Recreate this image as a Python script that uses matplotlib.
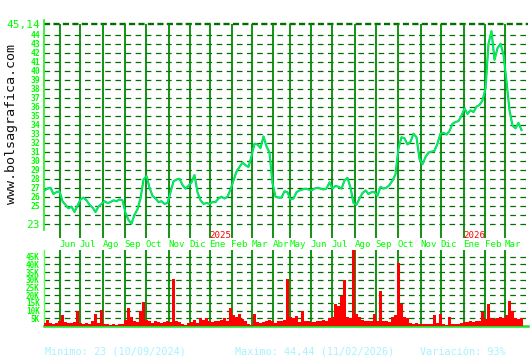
import numpy as np
import pandas as pd
import matplotlib
matplotlib.use("Agg")
import matplotlib.pyplot as plt
from matplotlib import transforms

# ---------------- data ----------------
# one sample every 3 trading days, starting 2024-05-13
price = [
    26.7, 26.9, 27.0, 26.3, 26.5, 26.6, 25.5, 25.1, 24.7, 24.9,
    24.3, 25.0, 25.7, 25.9, 25.6, 25.1, 24.8, 24.3, 24.9, 25.2,
    25.5, 25.3, 25.4, 25.6, 25.5, 25.7, 25.6, 24.2, 23.4, 23.0,
    24.0, 24.6, 25.8, 27.9, 28.3, 27.0, 26.1, 25.8, 25.4, 25.5,
    25.2, 25.3, 26.5, 27.7, 27.9, 28.0, 27.3, 26.9, 27.2, 27.6,
    28.4, 26.5, 25.6, 25.2, 25.3, 25.2, 25.4, 25.4, 25.8, 26.0,
    25.8, 26.0, 26.8, 27.8, 28.8, 29.3, 29.8, 29.5, 29.3, 30.5,
    31.9, 31.8, 31.4, 32.7, 31.6, 30.9, 27.5, 26.0, 25.9, 25.9,
    26.6, 26.5, 25.7, 25.8, 26.5, 26.7, 26.8, 26.9, 26.8, 26.7,
    26.9, 27.0, 26.9, 26.8, 26.9, 27.6, 26.9, 27.2, 27.1, 26.9,
    27.8, 28.1, 27.0, 25.3, 25.1, 25.8, 26.4, 26.7, 26.3, 26.5,
    26.5, 26.1, 27.1, 26.9, 27.0, 27.3, 27.8, 28.5, 31.4, 32.6,
    32.5, 31.8, 32.1, 33.0, 32.6, 30.2, 29.6, 30.4, 30.9, 31.0,
    31.1, 31.9, 33.0, 33.1, 32.9, 33.3, 34.1, 34.3, 34.4, 35.0,
    35.8, 35.2, 35.6, 35.4, 36.0, 36.2, 36.7, 38.0, 43.0, 44.4,
    41.2, 42.5, 43.0, 41.8, 38.8, 35.6, 33.9, 33.6, 34.2, 33.4,
]
volume_k = [
    2, 4, 2, 1.5, 2, 3, 7, 2.5, 2, 1.8,
    2.5, 10, 2, 1.5, 2, 1.5, 3, 8, 2, 10.5,
    1.5, 1, 0.8, 1, 0.7, 1, 1.5, 4, 11.5, 6,
    3, 2.5, 10, 15.4, 4, 3, 2, 3, 2.5, 2,
    2.5, 3, 2.5, 30.5, 3.5, 2.5, 1, 0.7, 2, 2.5,
    4, 2, 5, 4, 5, 3, 2.5, 3, 3.5, 4,
    5, 3.5, 11.5, 7, 6, 8, 4.5, 3.5, 1, 0.8,
    8, 2.5, 2, 2.5, 3, 4, 3, 2, 3, 3.5,
    4, 30.5, 6, 5, 6.5, 2.5, 10, 3.5, 3, 2.5,
    2.5, 3, 3.5, 4, 3.5, 5.5, 6, 14.5, 13, 19.5,
    29.7, 6, 5, 52, 8, 6, 4, 3.5, 3, 3.5,
    8, 3, 23, 3, 3.5, 2.5, 6, 7, 41, 14,
    6, 5, 2, 1.5, 2, 1.5, 1.5, 1.5, 1.5, 1.2,
    7, 2, 8, 1, 0.8, 6, 1.5, 1.5, 1.2, 2,
    2.5, 2.5, 3, 2.5, 3, 3.5, 9, 4.5, 14, 5,
    4.5, 5, 6, 5.5, 7, 16, 10, 5, 4.5, 5,
]
step_days = 3
start_day = "2024-05-13"
end_day = "2026-03-31"
closed_days = ["2024-12-25", "2024-12-26", "2025-01-01", "2025-04-14",
               "2025-04-15", "2025-04-16", "2025-04-18", "2025-04-21",
               "2025-05-01", "2026-01-01"]
month_names = ["Ene", "Feb", "Mar", "Abr", "May", "Jun", "Jul", "Ago",
               "Sep", "Oct", "Nov", "Dic"]
price_ticks = list(range(25, 45))
vol_ticks = [5, 10, 15, 20, 25, 30, 35, 40, 45]
top_value = 45.14
bottom_value = 23
footer = ["Minimo: 23 (10/09/2024)", "Maximo: 44,44 (11/02/2026)",
          "Variación: 93%"]

# ---------------- calendar ----------------
days = pd.bdate_range(start_day, end_day, freq="C", holidays=closed_days)
idx = pd.Series(np.arange(len(days)), index=days)
firsts = idx.groupby([days.year, days.month]).first()
month_pos, month_lab, year_marks = [], [], []
for (yy, mm), p in list(firsts.items())[1:]:
    month_pos.append(p)
    month_lab.append(month_names[mm - 1])
    if mm == 1:
        year_marks.append((p, str(yy)))

t = np.arange(len(price)) * step_days

# ---------------- figure ----------------
W, H = 530, 360
fig = plt.figure(figsize=(W / 100, H / 100), dpi=100)
fig.patch.set_facecolor("white")
MONO = "DejaVu Sans Mono"
LIME = "#00ff00"
GRID = "#006e00"
VLINE = "#008a00"


def px2v(y):
    return 44 - (y - 34.7) / 9.0


ax = fig.add_axes([44 / W, 1 - 238 / H, 484 / W, 218 / H])
ax.set_xlim(-0.5, 483.5)
ax.set_ylim(px2v(238), px2v(20))
for s in ["top", "right", "bottom"]:
    ax.spines[s].set_visible(False)
ax.spines["left"].set_color("#22ee22")
ax.spines["left"].set_linewidth(1.2)
ax.spines["left"].set_bounds(px2v(230), px2v(20))
ax.set_xticks([])

# horizontal dashed grid
for v in range(23, 45):
    ax.axhline(v, color=GRID, lw=0.9, ls=(0, (4.5, 3.6)), zorder=1)
ax.axhline(top_value, color=GRID, lw=1.7, ls=(0, (2.6, 1.4)), zorder=1)
ax.vlines(month_pos, px2v(238), top_value, color=VLINE, lw=1.3, zorder=2)

ax.plot(t, price, color="#00b4b4", lw=1.5, zorder=3)
ax.plot(t, price, color="#00ff22", lw=0.9, zorder=4)

ticks = [bottom_value] + price_ticks + [top_value]
labels = [str(bottom_value)] + [str(v) for v in price_ticks] + ["45,14"]
ax.set_yticks(ticks)
ax.set_yticklabels(labels)
ax.tick_params(axis="y", length=0, pad=3, colors=LIME)
for lab, v in zip(ax.get_yticklabels(), ticks):
    lab.set_family(MONO)
    if v in (bottom_value, top_value):
        lab.set_fontsize(8)
    else:
        lab.set_fontsize(5.8)
        lab.set_fontweight("bold")

# month and year labels
trans = transforms.blended_transform_factory(ax.transData, fig.transFigure)
for p, lab in zip(month_pos, month_lab):
    ax.text(p, 1 - 244.5 / H, lab, transform=trans, ha="left", va="center",
            family=MONO, fontsize=6.6, color=LIME, clip_on=False)
for p, yy in year_marks:
    ax.text(p, 1 - 236 / H, yy, transform=trans, ha="left", va="center",
            family=MONO, fontsize=6.6, color="#ff0000", clip_on=False)

# ---------------- volume ----------------
av = fig.add_axes([44 / W, 1 - 326 / H, 484 / W, 76 / H])
av.set_xlim(-0.5, 483.5)
av.set_ylim(0, 76 / 1.54)
for s in ["top", "right"]:
    av.spines[s].set_visible(False)
av.spines["left"].set_color("#55ff55")
av.spines["left"].set_linewidth(1.0)
av.spines["left"].set_linestyle((0, (1, 1)))
av.spines["bottom"].set_color("#22dd22")
av.spines["bottom"].set_linewidth(1.8)
av.set_xticks([])
for v in vol_ticks:
    av.axhline(v, color=GRID, lw=0.9, ls=(0, (4.5, 3.6)), zorder=1)
av.vlines(month_pos, 0, 76 / 1.54, color=VLINE, lw=1.3, zorder=2)
av.bar(t, volume_k, width=2.2, color="#ff0000", edgecolor="none", zorder=3)
av.set_yticks(vol_ticks)
av.set_yticklabels([f"{v}K" for v in vol_ticks])
av.tick_params(axis="y", length=0, pad=3, colors=LIME)
for lab in av.get_yticklabels():
    lab.set_family(MONO)
    lab.set_fontsize(5.5)
    lab.set_fontweight("bold")

# ---------------- texts ----------------
fig.text(12 / W, 1 - 124 / H, "www.bolsagrafica.com", rotation=90,
         ha="center", va="center", family=MONO, fontsize=9.6, color="#111111")
for xx, s in zip([45, 235, 420], footer):
    fig.text(xx / W, 1 - 352 / H, s, ha="left", va="center", family=MONO,
             fontsize=7.3, color="#a8f2ff")

fig.savefig("out.png", dpi=100, facecolor="white")
